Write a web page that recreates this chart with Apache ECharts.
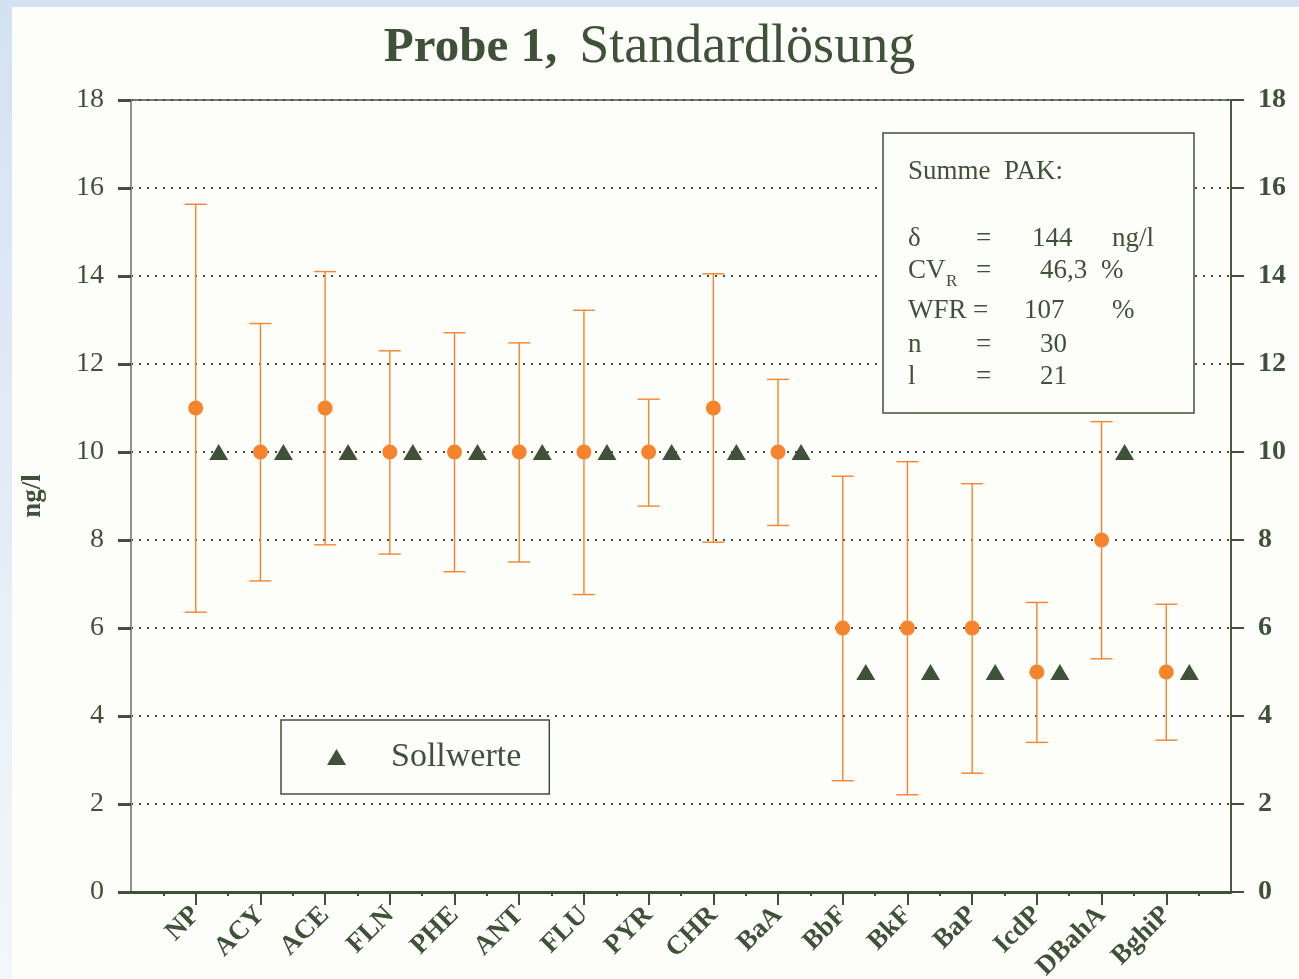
<!DOCTYPE html>
<html>
<head>
<meta charset="utf-8">
<script src="https://cdn.jsdelivr.net/npm/echarts@6/dist/echarts.min.js"></script>
<style>
  html, body { margin: 0; padding: 0; }
  body { width: 1299px; height: 979px; background: linear-gradient(to bottom, #d3e2f1, #f3f7fb); position: relative; overflow: hidden; }
  #paper { position: absolute; left: 12px; top: 7px; right: 0; bottom: 0; background: #fdfdfa; }
  #chart { position: absolute; left: 0; top: 0; width: 1299px; height: 979px; }
</style>
</head>
<body>
<div id="paper"></div>
<div id="chart"></div>
<script>
// PAK Einzelstoffe
var categories = ['NP','ACY','ACE','FLN','PHE','ANT','FLU','PYR','CHR','BaA','BbF','BkF','BaP','IcdP','DBahA','BghiP'];
// Mittelwerte der Labore
var means = [11, 10, 11, 10, 10, 10, 10, 10, 11, 10, 6, 6, 6, 5, 8, 5];
// Streubereich unten / oben
var lows  = [6.36, 7.07, 7.89, 7.68, 7.28, 7.50, 6.76, 8.77, 7.95, 8.33, 2.53, 2.21, 2.70, 3.40, 5.30, 3.45];
var highs = [15.63, 12.92, 14.10, 12.30, 12.71, 12.48, 13.22, 11.20, 14.05, 11.65, 9.45, 9.78, 9.28, 6.58, 10.69, 6.54];
// Sollwerte
var sollwerte = [10, 10, 10, 10, 10, 10, 10, 10, 10, 10, 5, 5, 5, 5, 10, 5];
var yTicks = [0, 2, 4, 6, 8, 10, 12, 14, 16, 18];

var green = '#3f5139';
var orange = '#f5842c';
var serif = '"Liberation Serif", "DejaVu Serif", serif';

var chart = echarts.init(document.getElementById('chart'));

var xPos = categories.map(function (c, i) { return i + 1; });
var errData = categories.map(function (c, i) { return [xPos[i], lows[i], highs[i]]; });
var meanData = categories.map(function (c, i) { return [xPos[i], means[i]]; });
var sollData = categories.map(function (c, i) { return [xPos[i], sollwerte[i]]; });

function renderErr(params, api) {
    var x = api.value(0);
    var lo = api.coord([x, api.value(1)]);
    var hi = api.coord([x, api.value(2)]);
    var w = 11;
    var st = { stroke: orange, lineWidth: 1.4 };
    return {
        type: 'group',
        children: [
            { type: 'line', shape: { x1: hi[0], y1: hi[1], x2: lo[0], y2: lo[1] }, style: st },
            { type: 'line', shape: { x1: hi[0] - w, y1: hi[1], x2: hi[0] + w, y2: hi[1] }, style: st },
            { type: 'line', shape: { x1: lo[0] - w, y1: lo[1], x2: lo[0] + w, y2: lo[1] }, style: st }
        ]
    };
}

var yLabelBase = { color: green, fontFamily: serif, fontSize: 28 };

var statText = { fill: green, font: '27px ' + serif };
function t(x, y, s, extra) {
    var st = Object.assign({ text: s, x: x, y: y, textVerticalAlign: 'middle' }, statText, extra || {});
    return { type: 'text', z: 101, style: st };
}

var option = {
    animation: false,
    title: {
        left: 'center',
        top: 16,
        text: '{b|Probe 1,}{n|Standardlösung}',
        textStyle: {
            rich: {
                b: { fontFamily: serif, fontSize: 49, fontWeight: 'bold', color: green },
                n: { fontFamily: serif, fontSize: 54, fontWeight: 'normal', color: green, padding: [0, 0, 0, 22] }
            }
        }
    },
    legend: {
        data: ['Sollwerte'],
        left: 281,
        top: 720,
        orient: 'vertical',
        padding: [20, 28, 20, 46],
        borderColor: green,
        borderWidth: 1.5,
        icon: 'triangle',
        itemWidth: 19,
        itemHeight: 16,
        selectedMode: false,
        textStyle: { color: green, fontFamily: serif, fontSize: 34, padding: [0, 0, 0, 40] }
    },
    grid: {
        left: 131, right: 68, top: 100, bottom: 87,
        containLabel: false,
        outerBoundsMode: 'none',
        show: true, borderColor: green, borderWidth: 1.5, backgroundColor: 'transparent'
    },
    xAxis: {
        type: 'value',
        min: 0,
        max: categories.length + 1,
        interval: 1,
        axisLine: { lineStyle: { color: green, width: 3 } },
        axisTick: { length: 13, customValues: xPos, lineStyle: { color: green, width: 2 } },
        minorTick: { show: true, splitNumber: 2, length: 4, lineStyle: { color: green, width: 2 } },
        splitLine: { show: false },
        axisLabel: {
            rotate: 45,
            margin: 19,
            color: green,
            fontFamily: serif,
            fontWeight: 'bold',
            fontSize: 27,
            customValues: xPos,
            formatter: function (v) { return categories[v - 1] || ''; }
        }
    },
    yAxis: [{
        type: 'value',
        min: yTicks[0],
        max: yTicks[yTicks.length - 1],
        interval: 2,
        name: 'ng/l',
        nameLocation: 'middle',
        nameGap: 84,
        nameRotate: 90,
        nameTextStyle: { color: green, fontFamily: serif, fontWeight: 'bold', fontSize: 27 },
        axisLine: { show: true, lineStyle: { color: '#8d9689', width: 2 } },
        axisTick: { show: true, length: 13, lineStyle: { color: green, width: 3 } },
        axisLabel: Object.assign({ margin: 27 }, yLabelBase),
        splitLine: { lineStyle: { color: green, type: [2, 6], width: 2 } }
    }, {
        type: 'value',
        position: 'right',
        min: yTicks[0],
        max: yTicks[yTicks.length - 1],
        interval: 2,
        axisLine: { show: true, lineStyle: { color: green, width: 1.5 } },
        axisTick: { show: true, length: 13, lineStyle: { color: green, width: 2 } },
        axisLabel: Object.assign({ margin: 27, fontWeight: 'bold' }, yLabelBase),
        splitLine: { show: false }
    }],
    graphic: [
        { type: 'rect', z: 100, shape: { x: 883, y: 133, width: 311, height: 280 },
          style: { fill: '#fdfdfa', stroke: green, lineWidth: 1.5 } },
        t(908, 172, 'Summe  PAK:'),
        t(908, 239, 'δ'), t(976, 239, '='), t(1032, 239, '144'), t(1112, 239, 'ng/l'),
        t(908, 271, 'CV'), t(946, 282, 'R', { font: '17px ' + serif }), t(976, 271, '='), t(1040, 271, '46,3'), t(1101, 271, '%'),
        t(908, 311, 'WFR'), t(973, 311, '='), t(1024, 311, '107'), t(1112, 311, '%'),
        t(908, 345, 'n'), t(976, 345, '='), t(1040, 345, '30'),
        t(908, 377, 'l'), t(976, 377, '='), t(1040, 377, '21')
    ],
    series: [{
        name: 'Streubereich',
        type: 'custom',
        renderItem: renderErr,
        encode: { x: 0, y: [1, 2] },
        data: errData,
        z: 2
    }, {
        name: 'Mittelwert',
        type: 'scatter',
        symbol: 'circle',
        symbolSize: 15,
        itemStyle: { color: orange, opacity: 1 },
        data: meanData,
        z: 3
    }, {
        name: 'Sollwerte',
        type: 'scatter',
        symbol: 'triangle',
        symbolSize: [19, 16],
        symbolOffset: [23, 0],
        itemStyle: { color: green, opacity: 1 },
        data: sollData,
        z: 3
    }]
};
chart.setOption(option);
</script>
</body>
</html>
